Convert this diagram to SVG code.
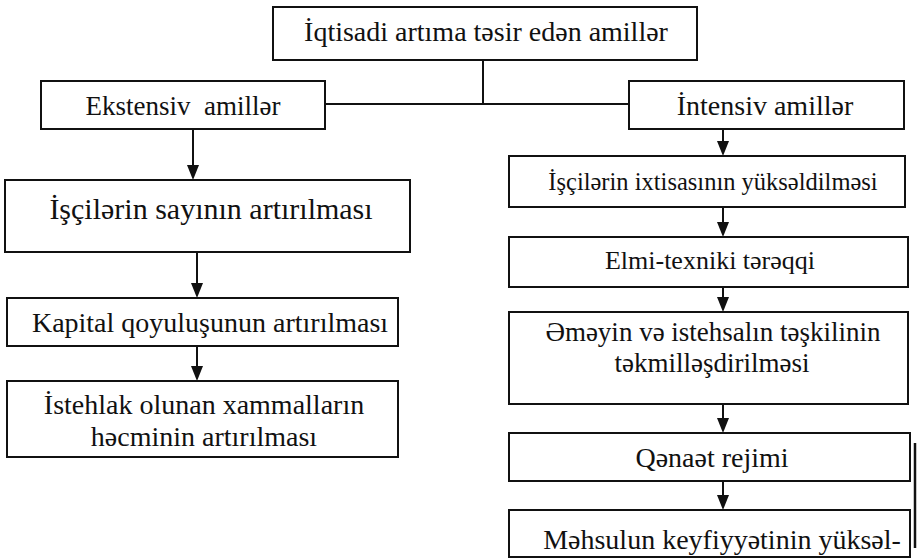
<svg xmlns="http://www.w3.org/2000/svg" width="921" height="559" viewBox="0 0 921 559">
<style>
.box{fill:#fff;stroke:#111;stroke-width:2}
.t{font-family:"Liberation Serif","DejaVu Serif","Times New Roman",serif;fill:#111;text-anchor:middle}
.c{fill:none;stroke:#111;stroke-width:2}
.h{fill:#111}
</style>
<rect width="921" height="559" fill="#fff"/>
<g id="connectors">
<path class="c" d="M483,60 V104 M325,104 H629"/>
<path class="c" d="M193,129 V166"/><path class="h" d="M187,165 H199 L193,180 Z"/>
<path class="c" d="M197,252 V284"/><path class="h" d="M191,283 H203 L197,298 Z"/>
<path class="c" d="M197,346 V367"/><path class="h" d="M191,366 H203 L197,381 Z"/>
<path class="c" d="M723,129 V142"/><path class="h" d="M717,141 H729 L723,156 Z"/>
<path class="c" d="M723,207 V223"/><path class="h" d="M717,222 H729 L723,237 Z"/>
<path class="c" d="M723,287 V298"/><path class="h" d="M717,297 H729 L723,312 Z"/>
<path class="c" d="M723,404 V419"/><path class="h" d="M717,418 H729 L723,433 Z"/>
<path class="c" d="M723,481 V496"/><path class="h" d="M717,495 H729 L723,510 Z"/>
<path d="M915,443 V548" fill="none" stroke="#111" stroke-width="2.5"/>
</g>
<g id="n-top"><rect class="box" x="273" y="7" width="424" height="53"/><text class="t" x="486" y="41" font-size="28">İqtisadi artıma təsir edən amillər</text></g>
<g id="n-ekstensiv"><rect class="box" x="41" y="81" width="284" height="48"/><text class="t" x="183" y="115" font-size="27" xml:space="preserve">Ekstensiv  amillər</text></g>
<g id="n-intensiv"><rect class="box" x="629" y="81" width="275" height="48"/><text class="t" x="765" y="115" font-size="28">İntensiv amillər</text></g>
<g id="n-sayi"><rect class="box" x="5" y="180" width="405" height="72"/><text class="t" x="211" y="219" font-size="30">İşçilərin sayının artırılması</text></g>
<g id="n-kapital"><rect class="box" x="7" y="298" width="391" height="48"/><text class="t" x="210" y="332" font-size="28">Kapital qoyuluşunun artırılması</text></g>
<g id="n-istehlak"><rect class="box" x="7" y="381" width="391" height="76"/><text class="t" x="204" y="414" font-size="28">İstehlak olunan xammalların</text><text class="t" x="204" y="446" font-size="28">həcminin artırılması</text></g>
<g id="n-ixtisas"><rect class="box" x="509" y="156" width="396" height="51"/><text class="t" x="713" y="190" font-size="24.5">İşçilərin ixtisasının yüksəldilməsi</text></g>
<g id="n-elmi"><rect class="box" x="509" y="237" width="399" height="50"/><text class="t" x="710" y="269" font-size="26">Elmi-texniki tərəqqi</text></g>
<g id="n-emek"><rect class="box" x="509" y="312" width="399" height="92"/><text class="t" x="713" y="341" font-size="27">Əməyin və istehsalın təşkilinin</text><text class="t" x="712" y="372" font-size="27">təkmilləşdirilməsi</text></g>
<g id="n-qenaet"><rect class="box" x="509" y="433" width="401" height="48"/><text class="t" x="712" y="467" font-size="28">Qənaət rejimi</text></g>
<g id="n-mehsul"><rect class="box" x="509" y="510" width="401" height="47"/><text class="t" x="722" y="549" font-size="28">Məhsulun keyfiyyətinin yüksəl-</text></g>
</svg>
